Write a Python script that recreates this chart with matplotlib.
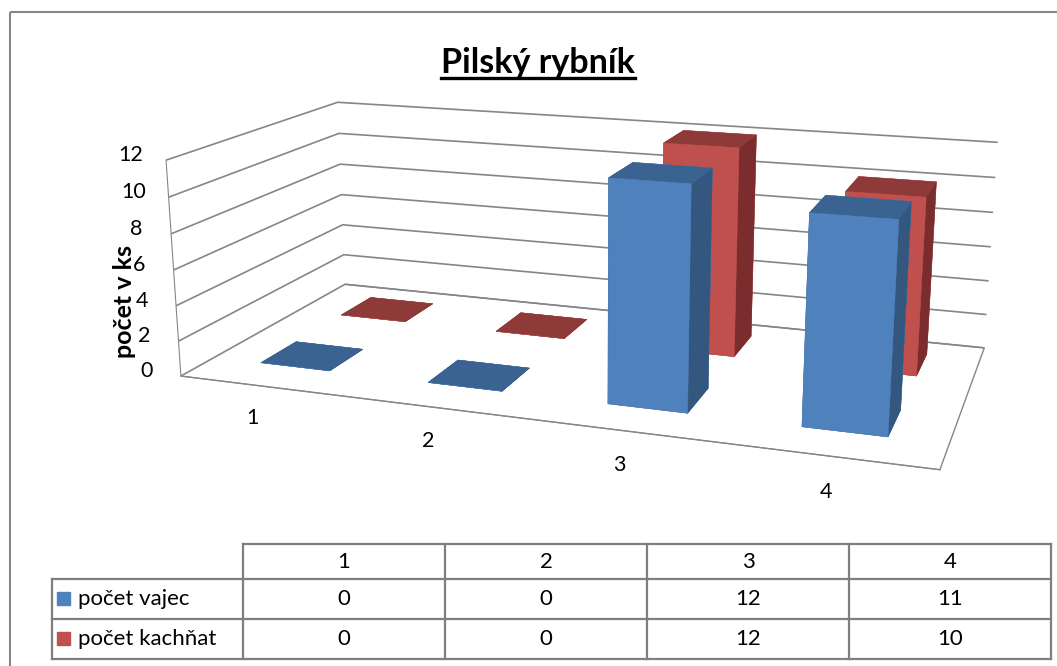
import numpy as np
import matplotlib
matplotlib.use("Agg")
import matplotlib.pyplot as plt
from matplotlib.patches import Rectangle
from matplotlib.lines import Line2D
from matplotlib.transforms import IdentityTransform

# data
categories = ['1', '2', '3', '4']
series_names = ['počet vajec', 'počet kachňat']
pocet_vajec = [0, 0, 12, 11]
pocet_kachnat = [0, 0, 12, 10]
z_ticks = [0, 2, 4, 6, 8, 10, 12]

plt.rcParams['font.family'] = ['Lato', 'DejaVu Sans']

GRAY = '#868686'
# front / side / top shades of the two series
blue = {'front': '#4F81BD', 'side': '#34577F', 'top': '#3B6391'}
red = {'front': '#C0504D', 'side': '#7A2D2C', 'top': '#8E3A38'}

W, H = 1057, 666
fig = plt.figure(figsize=(W / 100, H / 100), dpi=100)

ax = fig.add_axes([0.0676, 0.253, 0.975, 0.70], projection='3d')
ax.set_proj_type('persp', focal_length=0.65)
ax.view_init(elev=15, azim=-71)
ax.set_box_aspect((3.92, 1.85, 1.15), zoom=1.77)
ax.computed_zorder = False

x = np.arange(1, len(categories) + 1)
bw, bd = 0.42, 0.5


def face_colors(c, n):
    # bar3d face order: -z, +z, -y, +y, -x, +x
    return [c['top'], c['top'], c['front'], c['front'], c['side'], c['side']] * n


# back row first so the front row covers it
for depth, vals, col in [(1.875, pocet_kachnat, red), (0.675, pocet_vajec, blue)]:
    fc = face_colors(col, len(vals))
    bars = ax.bar3d(x - bw / 2, np.full(len(x), depth - bd / 2), np.zeros(len(x)),
                    bw, bd, vals, color=fc, shade=False, edgecolor=fc, linewidth=0.3)
    bars.set_clip_on(False)

ax.set_xlim(0.5, 4.5)
ax.set_ylim(0, 2.4)
ax.set_zlim(0, 12)
ax.set_xticks(x)
ax.set_xticklabels(categories, fontsize=15.5)
ax.set_yticks([])
ax.set_zticks(z_ticks)
ax.set_zticklabels([str(v) for v in z_ticks], fontsize=15.5, va='baseline')
ax.zaxis.set_tick_params(pad=-1)
# put the value axis on the front-left edge
ax.zaxis._axinfo['juggled'] = (1, 2, 0)

for axis in (ax.xaxis, ax.yaxis, ax.zaxis):
    axis.set_pane_color((1, 1, 1, 1))
    axis._axinfo['tick']['inward_factor'] = 0
    axis._axinfo['tick']['outward_factor'] = 0
ax.xaxis.pane.set_edgecolor('none')
ax.yaxis.pane.set_edgecolor('none')
ax.zaxis.pane.set_edgecolor(GRAY)
ax.xaxis._axinfo['grid']['color'] = (1, 1, 1, 0)
ax.yaxis._axinfo['grid']['color'] = (1, 1, 1, 0)
ax.zaxis._axinfo['grid'].update(color=GRAY, linewidth=1.2)
ax.xaxis.line.set_color(GRAY)
ax.zaxis.line.set_color(GRAY)
ax.yaxis.line.set_color((0, 0, 0, 0))

fig.text(125 / W, 1 - 301 / H, 'počet v ks', rotation=90, ha='center',
         va='center', fontsize=18, fontweight='bold')

title = fig.text(538 / W, 1 - 63 / H, 'Pilský rybník', ha='center',
                 va='center', fontsize=24.5, fontweight='bold')

# overlay in pixel units for the frame and the data table
tax = fig.add_axes([0, 0, 1, 1])
tax.set_xlim(0, W)
tax.set_ylim(H, 0)
tax.axis('off')
tax.add_patch(Rectangle((10, 12), 1100, 700, fill=False, edgecolor=GRAY, lw=1.5))

col_edges = [52, 243, 445, 647, 849, 1051]
row_edges = [544, 579, 619, 659]
tcol = '#7F7F7F'
tax.plot([col_edges[1], col_edges[-1]], [row_edges[0]] * 2, color=tcol, lw=1.6)
for yy in row_edges[1:]:
    tax.plot([col_edges[0], col_edges[-1]], [yy] * 2, color=tcol, lw=1.6)
tax.plot([col_edges[0]] * 2, [row_edges[1], row_edges[-1]], color=tcol, lw=1.6)
for xx in col_edges[1:]:
    tax.plot([xx] * 2, [row_edges[0], row_edges[-1]], color=tcol, lw=1.6)

for i, cat in enumerate(categories):
    cx = (col_edges[i + 1] + col_edges[i + 2]) / 2
    tax.text(cx, (row_edges[0] + row_edges[1]) / 2, cat, ha='center', va='center', fontsize=16)
for r, (name, vals, col) in enumerate([(series_names[0], pocet_vajec, blue),
                                        (series_names[1], pocet_kachnat, red)]):
    cy = (row_edges[r + 1] + row_edges[r + 2]) / 2
    tax.add_patch(Rectangle((57, cy - 7), 13, 13, color=col['front']))
    tax.text(78, cy, name, ha='left', va='center', fontsize=16)
    for i, v in enumerate(vals):
        cx = (col_edges[i + 1] + col_edges[i + 2]) / 2
        tax.text(cx, cy, str(v), ha='center', va='center', fontsize=16)

# underline the title
fig.canvas.draw()
bb = title.get_window_extent()
fig.add_artist(Line2D([bb.x0, bb.x1], [bb.y0 + 1, bb.y0 + 1], color='black',
                      lw=2.4, transform=IdentityTransform()))

fig.savefig('out.png', dpi=100)
